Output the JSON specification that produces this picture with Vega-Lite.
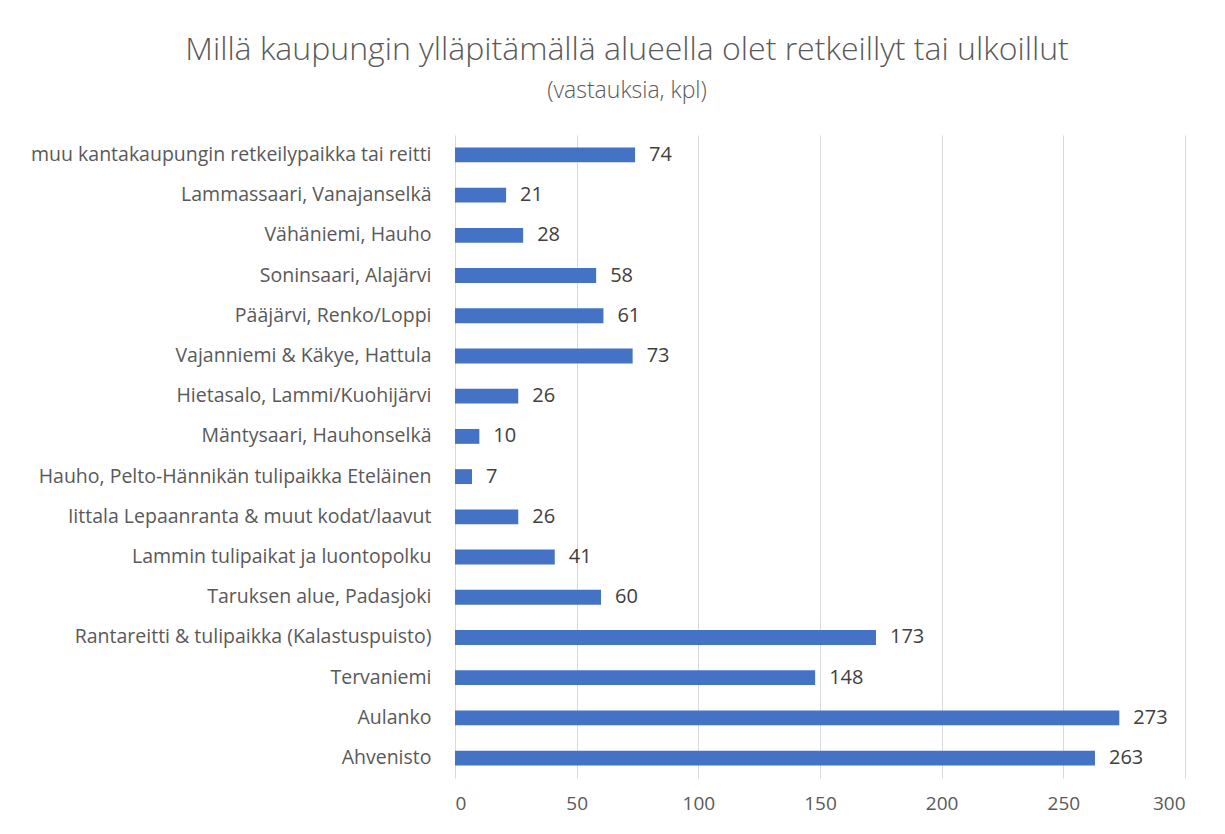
{
  "$schema": "https://vega.github.io/schema/vega-lite/v6.json",
  "width": 730,
  "height": 643,
  "autosize": {"type": "none"},
  "padding": {"left": 455, "top": 135, "right": 40, "bottom": 56},
  "background": "white",
  "title": {
    "text": "Millä kaupungin ylläpitämällä alueella olet retkeillyt tai ulkoillut",
    "subtitle": "(vastauksia, kpl)",
    "anchor": "middle",
    "frame": "group",
    "dx": -193,
    "offset": 31,
    "font": "Open Sans",
    "fontSize": 32,
    "fontWeight": 300,
    "color": "#595959",
    "subtitleFont": "Open Sans",
    "subtitleFontSize": 23,
    "subtitleFontWeight": 300,
    "subtitleColor": "#595959",
    "subtitlePadding": 13
  },
  "data": {
    "values": [
      {"paikka": "muu kantakaupungin retkeilypaikka tai reitti", "lkm": 74},
      {"paikka": "Lammassaari, Vanajanselkä", "lkm": 21},
      {"paikka": "Vähäniemi, Hauho", "lkm": 28},
      {"paikka": "Soninsaari, Alajärvi", "lkm": 58},
      {"paikka": "Pääjärvi, Renko/Loppi", "lkm": 61},
      {"paikka": "Vajanniemi & Käkye, Hattula", "lkm": 73},
      {"paikka": "Hietasalo, Lammi/Kuohijärvi", "lkm": 26},
      {"paikka": "Mäntysaari, Hauhonselkä", "lkm": 10},
      {"paikka": "Hauho, Pelto-Hännikän tulipaikka Eteläinen", "lkm": 7},
      {"paikka": "Iittala Lepaanranta & muut kodat/laavut", "lkm": 26},
      {"paikka": "Lammin tulipaikat ja luontopolku", "lkm": 41},
      {"paikka": "Taruksen alue, Padasjoki", "lkm": 60},
      {"paikka": "Rantareitti & tulipaikka (Kalastuspuisto)", "lkm": 173},
      {"paikka": "Tervaniemi", "lkm": 148},
      {"paikka": "Aulanko", "lkm": 273},
      {"paikka": "Ahvenisto", "lkm": 263}
    ]
  },
  "encoding": {
    "y": {
      "field": "paikka",
      "type": "nominal",
      "sort": null,
      "scale": {"paddingInner": 0.63, "paddingOuter": 0.31},
      "axis": {
        "title": null,
        "domain": false,
        "ticks": false,
        "labelPadding": 24,
        "labelFont": "Open Sans",
        "labelFontSize": 19.5,
        "labelColor": "#595959",
        "labelLimit": 460
      }
    },
    "x": {
      "field": "lkm",
      "type": "quantitative",
      "scale": {"domain": [0, 300], "nice": false},
      "axis": {
        "title": null,
        "values": [0, 50, 100, 150, 200, 250, 300],
        "domain": false,
        "ticks": false,
        "labelPadding": 16,
        "labelFont": "Open Sans",
        "labelFontSize": 19,
        "labelColor": "#595959",
        "gridColor": "#d9d9d9",
        "gridWidth": 1
      }
    }
  },
  "layer": [
    {"mark": {"type": "bar", "color": "#4472C4"}},
    {
      "mark": {"type": "text", "align": "left", "baseline": "middle", "dx": 14, "font": "Open Sans", "fontSize": 20, "color": "#404040"},
      "encoding": {"text": {"field": "lkm", "type": "quantitative"}}
    }
  ],
  "config": {"view": {"stroke": null}}
}
